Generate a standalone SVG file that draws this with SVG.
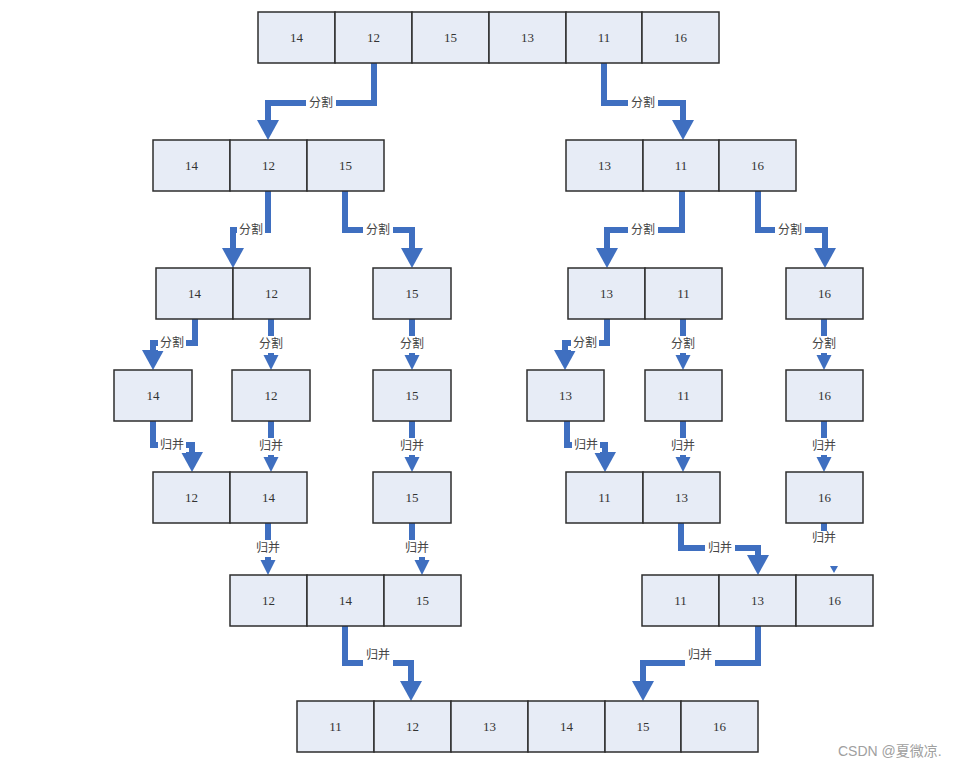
<svg xmlns="http://www.w3.org/2000/svg" width="974" height="766" viewBox="0 0 974 766">
<style>
.c{fill:#e7ecf6;stroke:#2e2e2e;stroke-width:1.5}
.n{font-family:"Liberation Serif",serif;font-size:13px;fill:#333;text-anchor:middle}
.w{stroke:#3f6fc0;stroke-width:6;fill:none}
.a{fill:#3f6fc0}
.lb{fill:#fff}
.l{font-family:"Liberation Serif","Noto Sans CJK SC",serif;font-size:12px;fill:#444;text-anchor:middle}
.wm{font-family:"Liberation Sans","Noto Sans CJK SC",sans-serif;font-size:14px;fill:#a0a0a0}
</style>
<defs>
<marker id="big" markerUnits="userSpaceOnUse" markerWidth="22" markerHeight="24" viewBox="0 -12 20 24" refX="0" refY="0" orient="auto"><path d="M0,-11 L20,0 L0,11 Z" fill="#3f6fc0"/></marker>
<marker id="sm" markerUnits="userSpaceOnUse" markerWidth="16" markerHeight="16" viewBox="0 -8 16 16" refX="0" refY="0" orient="auto"><path d="M0,-7.5 L15,0 L0,7.5 Z" fill="#3f6fc0"/></marker>
</defs>
<rect width="974" height="766" fill="#fff"/>

<g id="connectors">
<path class="w" d="M374,63 V103 H268 V120" marker-end="url(#big)"/>
<path class="w" d="M604,63 V103 H683 V120" marker-end="url(#big)"/>
<path class="w" d="M268,191 V230 H233 V248" marker-end="url(#big)"/>
<path class="w" d="M345,191 V230 H412 V248" marker-end="url(#big)"/>
<path class="w" d="M682,191 V230 H607 V248" marker-end="url(#big)"/>
<path class="w" d="M758,191 V230 H825 V248" marker-end="url(#big)"/>
<path class="w" d="M195,319 V343 H153 V350" marker-end="url(#big)"/>
<path class="w" d="M271,319 V355" marker-end="url(#sm)"/>
<path class="w" d="M412,319 V355" marker-end="url(#sm)"/>
<path class="w" d="M607,319 V343 H565 V350" marker-end="url(#big)"/>
<path class="w" d="M683,319 V355" marker-end="url(#sm)"/>
<path class="w" d="M824,319 V355" marker-end="url(#sm)"/>
<path class="w" d="M153,421 V445 H192 V452" marker-end="url(#big)"/>
<path class="w" d="M271,421 V457" marker-end="url(#sm)"/>
<path class="w" d="M412,421 V457" marker-end="url(#sm)"/>
<path class="w" d="M567,421 V445 H605 V452" marker-end="url(#big)"/>
<path class="w" d="M683,421 V457" marker-end="url(#sm)"/>
<path class="w" d="M824,421 V457" marker-end="url(#sm)"/>
<path class="w" d="M268,523 V560" marker-end="url(#sm)"/>
<path class="w" d="M412,523 V548 H422 V560" marker-end="url(#sm)"/>
<path class="w" d="M681,523 V548 H758 V555" marker-end="url(#big)"/>
<path class="w" d="M824,523 V531"/>
<polygon class="a" points="830,566 838,566 834,573"/>
<path class="w" d="M345,626 V663 H411 V681" marker-end="url(#big)"/>
<path class="w" d="M758,626 V663 H643 V681" marker-end="url(#big)"/>

<rect class="lb" x="306" y="95" width="30" height="16"/><text class="l" x="321" y="107">分割</text>
<rect class="lb" x="628" y="95" width="30" height="16"/><text class="l" x="643" y="107">分割</text>
<rect class="lb" x="237" y="222" width="28" height="16"/><text class="l" x="251" y="234">分割</text>
<rect class="lb" x="363" y="222" width="30" height="16"/><text class="l" x="378" y="234">分割</text>
<rect class="lb" x="628" y="222" width="30" height="16"/><text class="l" x="643" y="234">分割</text>
<rect class="lb" x="775" y="222" width="30" height="16"/><text class="l" x="790" y="234">分割</text>
<rect class="lb" x="158" y="335" width="28" height="16"/><text class="l" x="172" y="347">分割</text>
<rect class="lb" x="256" y="336" width="30" height="17"/><text class="l" x="271" y="348">分割</text>
<rect class="lb" x="397" y="336" width="30" height="17"/><text class="l" x="412" y="348">分割</text>
<rect class="lb" x="571" y="335" width="28" height="16"/><text class="l" x="585" y="347">分割</text>
<rect class="lb" x="668" y="336" width="30" height="17"/><text class="l" x="683" y="348">分割</text>
<rect class="lb" x="809" y="336" width="30" height="17"/><text class="l" x="824" y="348">分割</text>
<rect class="lb" x="158" y="437" width="28" height="16"/><text class="l" x="172" y="449">归并</text>
<rect class="lb" x="256" y="438" width="30" height="17"/><text class="l" x="271" y="450">归并</text>
<rect class="lb" x="397" y="438" width="30" height="17"/><text class="l" x="412" y="450">归并</text>
<rect class="lb" x="572" y="437" width="28" height="16"/><text class="l" x="586" y="449">归并</text>
<rect class="lb" x="668" y="438" width="30" height="17"/><text class="l" x="683" y="450">归并</text>
<rect class="lb" x="809" y="438" width="30" height="17"/><text class="l" x="824" y="450">归并</text>
<rect class="lb" x="253" y="540" width="30" height="17"/><text class="l" x="268" y="552">归并</text>
<rect class="lb" x="402" y="540" width="30" height="17"/><text class="l" x="417" y="552">归并</text>
<rect class="lb" x="705" y="540" width="30" height="16"/><text class="l" x="720" y="552">归并</text>
<text class="l" x="824" y="542">归并</text>
<rect class="lb" x="363" y="647" width="30" height="19"/><text class="l" x="378" y="659">归并</text>
<rect class="lb" x="685" y="647" width="30" height="19"/><text class="l" x="700" y="659">归并</text>
</g>

<g id="n0">
<rect class="c" x="258" y="12" width="77" height="51"/><rect class="c" x="335" y="12" width="77" height="51"/><rect class="c" x="412" y="12" width="77" height="51"/><rect class="c" x="489" y="12" width="77" height="51"/><rect class="c" x="566" y="12" width="76" height="51"/><rect class="c" x="642" y="12" width="77" height="51"/>
<text class="n" x="296.5" y="42">14</text><text class="n" x="373.5" y="42">12</text><text class="n" x="450.5" y="42">15</text><text class="n" x="527.5" y="42">13</text><text class="n" x="604" y="42">11</text><text class="n" x="680.5" y="42">16</text>
</g>
<g id="n1">
<rect class="c" x="153" y="140" width="77" height="51"/><rect class="c" x="230" y="140" width="77" height="51"/><rect class="c" x="307" y="140" width="77" height="51"/>
<text class="n" x="191.5" y="170">14</text><text class="n" x="268.5" y="170">12</text><text class="n" x="345.5" y="170">15</text>
</g>
<g id="n2">
<rect class="c" x="566" y="140" width="77" height="51"/><rect class="c" x="643" y="140" width="76" height="51"/><rect class="c" x="719" y="140" width="77" height="51"/>
<text class="n" x="604.5" y="170">13</text><text class="n" x="681" y="170">11</text><text class="n" x="757.5" y="170">16</text>
</g>
<g id="n3">
<rect class="c" x="156" y="268" width="77" height="51"/><rect class="c" x="233" y="268" width="77" height="51"/>
<text class="n" x="194.5" y="298">14</text><text class="n" x="271.5" y="298">12</text>
</g>
<g id="n4"><rect class="c" x="373" y="268" width="78" height="51"/><text class="n" x="412" y="298">15</text></g>
<g id="n5">
<rect class="c" x="568" y="268" width="77" height="51"/><rect class="c" x="645" y="268" width="77" height="51"/>
<text class="n" x="606.5" y="298">13</text><text class="n" x="683.5" y="298">11</text>
</g>
<g id="n6"><rect class="c" x="786" y="268" width="77" height="51"/><text class="n" x="824.5" y="298">16</text></g>
<g id="n7"><rect class="c" x="114" y="370" width="78" height="51"/><text class="n" x="153" y="400">14</text></g>
<g id="n8"><rect class="c" x="232" y="370" width="78" height="51"/><text class="n" x="271" y="400">12</text></g>
<g id="n9"><rect class="c" x="373" y="370" width="78" height="51"/><text class="n" x="412" y="400">15</text></g>
<g id="n10"><rect class="c" x="527" y="370" width="77" height="51"/><text class="n" x="565.5" y="400">13</text></g>
<g id="n11"><rect class="c" x="645" y="370" width="77" height="51"/><text class="n" x="683.5" y="400">11</text></g>
<g id="n12"><rect class="c" x="786" y="370" width="77" height="51"/><text class="n" x="824.5" y="400">16</text></g>
<g id="n13">
<rect class="c" x="153" y="472" width="77" height="51"/><rect class="c" x="230" y="472" width="77" height="51"/>
<text class="n" x="191.5" y="502">12</text><text class="n" x="268.5" y="502">14</text>
</g>
<g id="n14"><rect class="c" x="373" y="472" width="78" height="51"/><text class="n" x="412" y="502">15</text></g>
<g id="n15">
<rect class="c" x="566" y="472" width="77" height="51"/><rect class="c" x="643" y="472" width="77" height="51"/>
<text class="n" x="604.5" y="502">11</text><text class="n" x="681.5" y="502">13</text>
</g>
<g id="n16"><rect class="c" x="786" y="472" width="77" height="51"/><text class="n" x="824.5" y="502">16</text></g>
<g id="n17">
<rect class="c" x="230" y="575" width="77" height="51"/><rect class="c" x="307" y="575" width="77" height="51"/><rect class="c" x="384" y="575" width="77" height="51"/>
<text class="n" x="268.5" y="605">12</text><text class="n" x="345.5" y="605">14</text><text class="n" x="422.5" y="605">15</text>
</g>
<g id="n18">
<rect class="c" x="642" y="575" width="77" height="51"/><rect class="c" x="719" y="575" width="77" height="51"/><rect class="c" x="796" y="575" width="77" height="51"/>
<text class="n" x="680.5" y="605">11</text><text class="n" x="757.5" y="605">13</text><text class="n" x="834.5" y="605">16</text>
</g>
<g id="n19">
<rect class="c" x="297" y="701" width="77" height="51"/><rect class="c" x="374" y="701" width="77" height="51"/><rect class="c" x="451" y="701" width="77" height="51"/><rect class="c" x="528" y="701" width="77" height="51"/><rect class="c" x="605" y="701" width="76" height="51"/><rect class="c" x="681" y="701" width="77" height="51"/>
<text class="n" x="335.5" y="731">11</text><text class="n" x="412.5" y="731">12</text><text class="n" x="489.5" y="731">13</text><text class="n" x="566.5" y="731">14</text><text class="n" x="643" y="731">15</text><text class="n" x="719.5" y="731">16</text>
</g>
<text class="wm" x="838" y="756">CSDN @夏微凉.</text>
</svg>
